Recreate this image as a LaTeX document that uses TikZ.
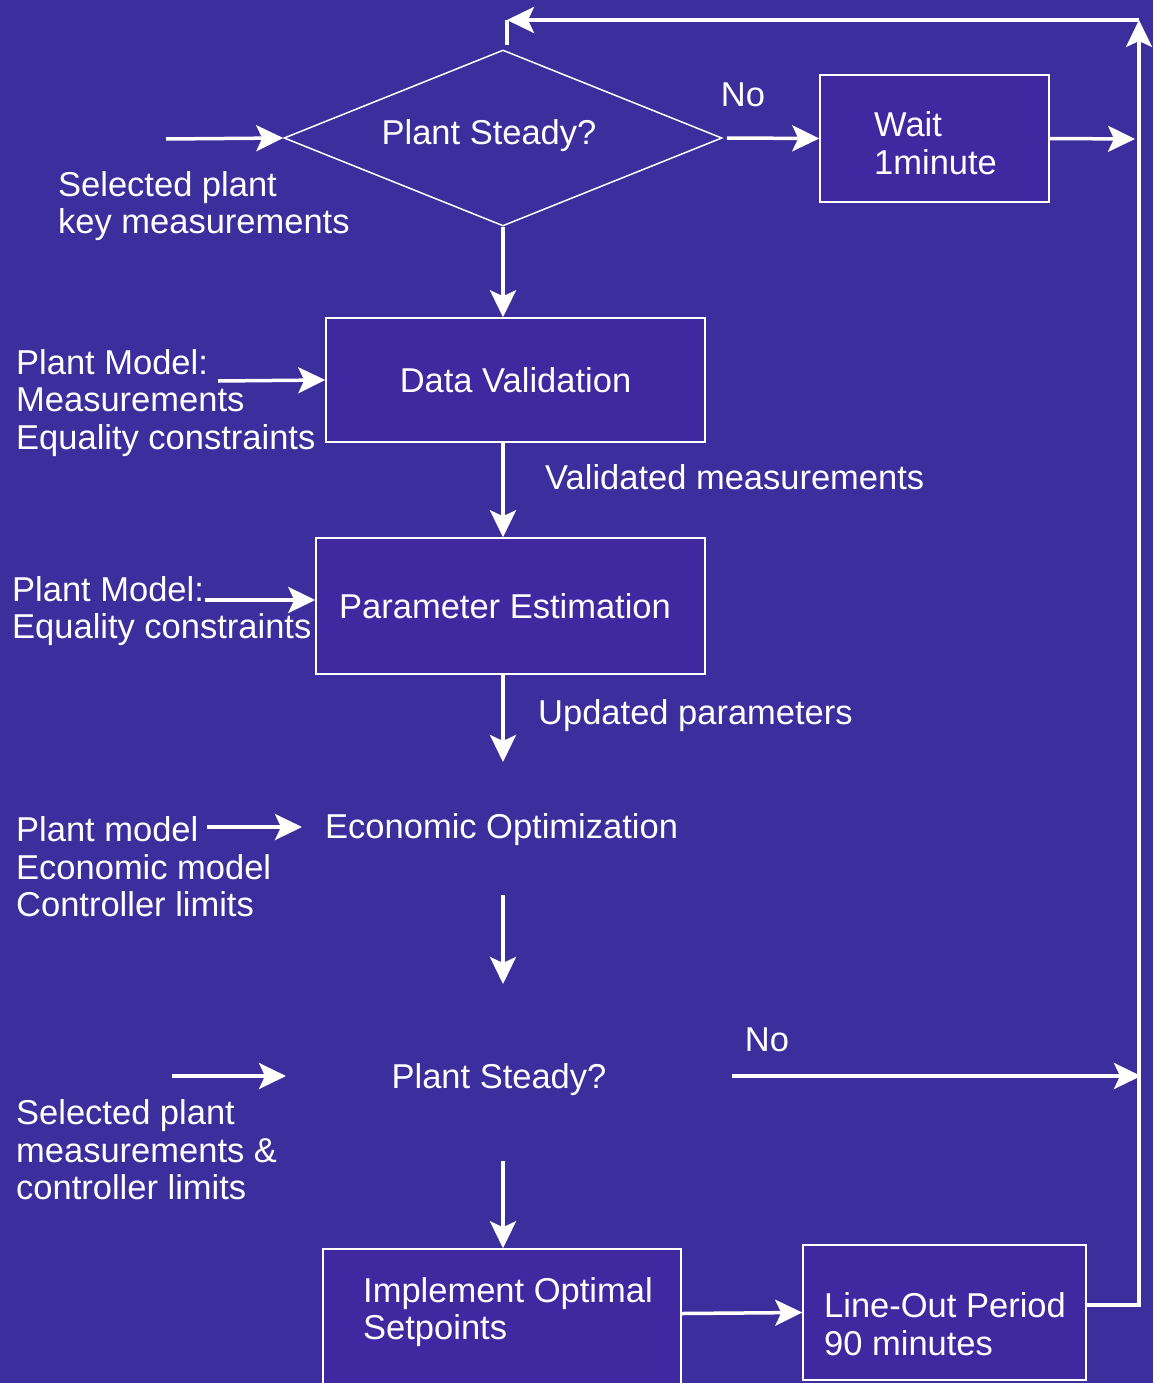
\documentclass[tikz,border=0pt]{standalone}
\usepackage{fontspec}
\setmainfont{Liberation Sans}
\usetikzlibrary{arrows.meta,shapes.geometric}
\definecolor{bgblue}{RGB}{61,46,157}
\definecolor{boxblue}{RGB}{64,40,161}
\begin{document}
\begin{tikzpicture}[x=1pt,y=-1pt,
  every node/.style={text=white,font=\fontsize{34.5}{37.5}\selectfont,inner sep=0pt},
  box/.style={draw=white,line width=1.5pt,fill=boxblue,rectangle},
  decision/.style={draw=white,line width=1.5pt,diamond,minimum width=438pt,minimum height=176pt},
  flow/.style={draw=white,line width=3.5pt,-{Stealth[length=27pt,width=26pt,inset=6pt]}},
  plainline/.style={draw=white,line width=3.5pt},
  txt/.style={yshift=-3pt},
  lbl/.style={txt,anchor=west,align=left}]

% canvas
\fill[bgblue] (0,0) rectangle (1153,1383);
\useasboundingbox (0,0) rectangle (1153,1383);
\clip (0,0) rectangle (1153,1383);

% first steadiness check
\node[decision] (steady1) at (503,138) {};
\node[txt] (steady1txt) at (489,133) {Plant Steady?};
\node[txt] (no1) at (743,92) {No};
\node[box,minimum width=229pt,minimum height=127pt] (wait) at (934.5,138.5) {};
\node[lbl] (waittxt) at (874,140) {Wait\\1minute};
\node[lbl] (in1txt) at (58,203) {Selected plant\\key measurements};

% data validation
\node[box,minimum width=379pt,minimum height=124pt] (dv) at (515.5,380) {Data Validation};
\node[lbl] (in2txt) at (16,400) {Plant Model:\\Measurements\\Equality constraints};
\node[lbl] (vm) at (545,474) {Validated measurements};

% parameter estimation
\node[box,minimum width=389pt,minimum height=136pt] (pe) at (510.5,606) {\hspace*{-11pt}Parameter Estimation};
\node[lbl] (in3txt) at (12,608) {Plant Model:\\Equality constraints};
\node[lbl] (up) at (538,713) {Updated parameters};

% economic optimization
\node[lbl] (eo) at (325,827) {Economic Optimization};
\node[lbl] (in4txt) at (16,864) {Plant model\\Economic model\\Controller limits};

% second steadiness check
\node[txt] (steady2) at (499,1077) {Plant Steady?};
\node[txt] (no2) at (767,1037) {No};
\node[lbl] (in5txt) at (16,1147) {Selected plant\\measurements \&\\controller limits};

% implementation and line-out
\node[box,minimum width=358pt,minimum height=171pt] (impl) at (502,1334.5) {};
\node[lbl] (impltxt) at (363,1309) {Implement Optimal\\Setpoints};
\node[box,minimum width=283pt,minimum height=135pt] (lineout) at (944.5,1312.5) {};
\node[lbl] (lotxt) at (824,1321) {Line-Out Period\\90 minutes};

% connector end points
\coordinate (src1) at (166,139);
\coordinate (src2) at (218,381);
\coordinate (src3) at (205,600);
\coordinate (src4) at (207,827);
\coordinate (dst4) at (302,827);
\coordinate (src5) at (172,1076);
\coordinate (dst5) at (286,1076);
\coordinate (waitout) at (1135,139);
\coordinate (rail) at (1139,1305);
\coordinate (railtop) at (1139,20);
\coordinate (railno) at (1141,1076);
\coordinate (loopend) at (507,20);
\coordinate (looptick) at (507,45);
\coordinate (peout) at (503,762);
\coordinate (eoout) at (503,895);
\coordinate (eoin) at (503,984);
\coordinate (s2out) at (503,1161);
\coordinate (s2no) at (732,1076);

% connectors
\draw[flow] (src1) -- (steady1.west);
\draw[flow] (steady1.east) ++(4,0) -- (wait.west);
\draw[flow] (wait.east) -- (waitout);
\draw[flow] (steady1.south) -- (dv.north -| steady1.south);
\draw[flow] (src2) -- (dv.west);
\draw[flow] (dv.south -| steady1.south) -- (pe.north -| steady1.south);
\draw[flow] (src3) -- (pe.west |- src3);
\draw[flow] (pe.south -| steady1.south) -- (peout);
\draw[flow] (src4) -- (dst4);
\draw[flow] (eoout) -- (eoin);
\draw[flow] (src5) -- (dst5);
\draw[flow] (s2no) -- (railno);
\draw[flow] (s2out) -- (impl.north -| s2out);
\draw[flow] (impl.east |- lineout.west) ++(0,1) -- (lineout.west);
\draw[flow] (lineout.east |- rail) -- (rail) -- (railtop);
\draw[flow] (railtop) -- (loopend);
\draw[plainline] (loopend) -- (looptick);

\end{tikzpicture}
\end{document}
